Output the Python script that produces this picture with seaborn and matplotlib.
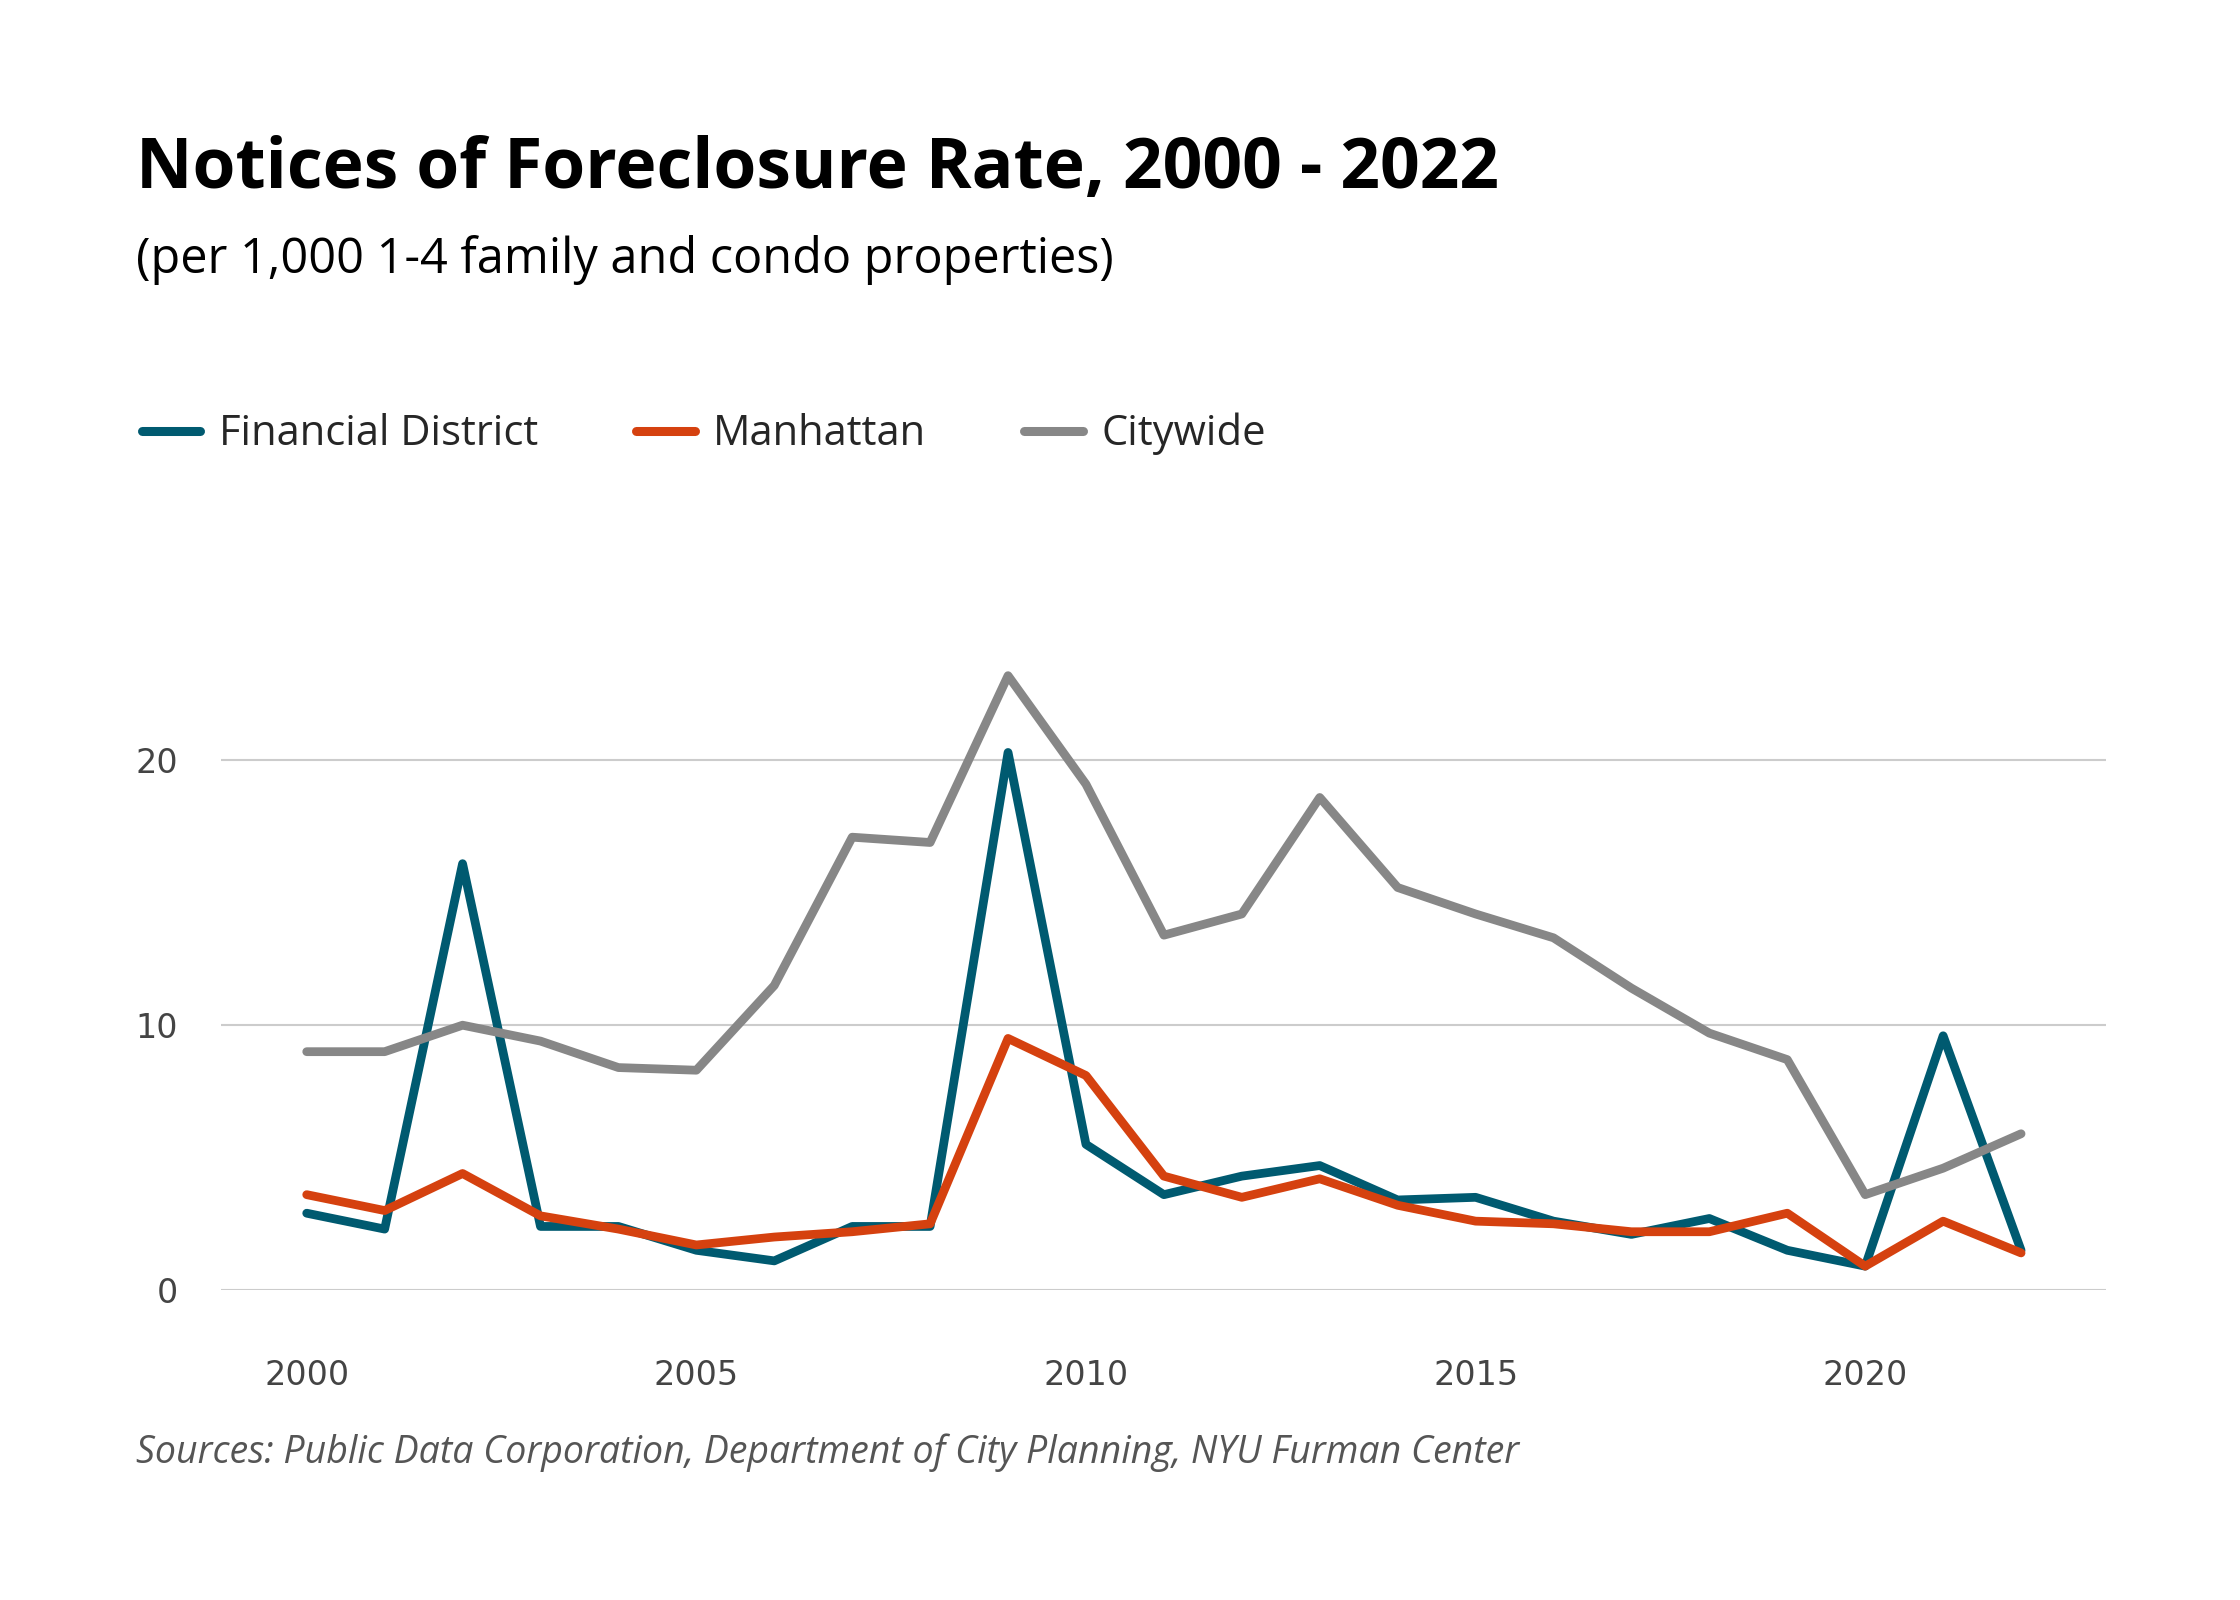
import pandas as pd
import matplotlib
matplotlib.use("Agg")
import matplotlib.pyplot as plt
import seaborn as sns

years = list(range(2000, 2023))
financial_district = [2.9, 2.3, 16.1, 2.4, 2.4, 1.5, 1.1, 2.4, 2.4, 20.3,
                      5.5, 3.6, 4.3, 4.7, 3.4, 3.5, 2.6, 2.1, 2.7, 1.5,
                      0.9, 9.6, 1.5]
manhattan = [3.6, 3.0, 4.4, 2.8, 2.3, 1.7, 2.0, 2.2, 2.5, 9.5,
             8.1, 4.3, 3.5, 4.2, 3.2, 2.6, 2.5, 2.2, 2.2, 2.9,
             0.9, 2.6, 1.4]
citywide = [9.0, 9.0, 10.0, 9.4, 8.4, 8.3, 11.5, 17.1, 16.9, 23.2,
            19.1, 13.4, 14.2, 18.6, 15.2, 14.2, 13.3, 11.4, 9.7, 8.7,
            3.6, 4.6, 5.9]

series_names = ["Financial District", "Manhattan", "Citywide"]
colors = ["#005a70", "#d5410f", "#878787"]

df = pd.DataFrame({
    "year": years * 3,
    "rate": financial_district + manhattan + citywide,
    "area": [series_names[0]] * 23 + [series_names[1]] * 23 + [series_names[2]] * 23,
})

sns.set_theme(style="white")
plt.rcParams["font.family"] = ["Open Sans", "DejaVu Sans"]

fig = plt.figure(figsize=(22.4, 16), dpi=100)
ax = fig.add_axes([221 / 2240, 1 - 1290 / 1600, (2106 - 221) / 2240, 662 / 1600])

sns.lineplot(data=df, x="year", y="rate", hue="area", hue_order=series_names,
             palette=colors, linewidth=6.3, ax=ax, clip_on=False)

handles, labels = ax.get_legend_handles_labels()
ax.get_legend().remove()

ax.set_xlim(1998.9, 2023.09)
ax.set_ylim(0, 25)
ax.set_xticks([2000, 2005, 2010, 2015, 2020])
ax.set_yticks([0, 10, 20])
ax.set_xlabel("")
ax.set_ylabel("")
ax.grid(axis="y", color="#cccccc", linewidth=1.5)
ax.grid(axis="x", visible=False)
for s in ax.spines.values():
    s.set_visible(False)
ax.tick_params(axis="x", pad=50, length=0, labelsize=24, labelcolor="#444444")
ax.tick_params(axis="y", pad=31, length=0, labelsize=24, labelcolor="#444444")
for t in ax.get_xticklabels() + ax.get_yticklabels():
    t.set_family("DejaVu Sans")

leg = fig.legend(handles, labels, loc="center left",
                 bbox_to_anchor=(142 / 2240, 1 - 434 / 1600),
                 ncol=3, frameon=False, fontsize=30, borderpad=0,
                 borderaxespad=0, handlelength=1.4, handletextpad=0.45,
                 columnspacing=2.35)
for line in leg.get_lines():
    line.set_linewidth(6.5)

fig.text(136 / 2240, 1 - 188 / 1600, "Notices of Foreclosure Rate, 2000 - 2022",
         fontsize=50, fontweight="bold", color="#000000", va="baseline")
fig.text(136 / 2240, 1 - 273 / 1600, "(per 1,000 1-4 family and condo properties)",
         fontsize=35, color="#000000", va="baseline")
fig.text(136 / 2240, 1 - 1463 / 1600,
         "Sources: Public Data Corporation, Department of City Planning, NYU Furman Center",
         fontsize=27, style="italic", color="#555555", va="baseline")

fig.savefig("out.png", dpi=100, facecolor="white")
